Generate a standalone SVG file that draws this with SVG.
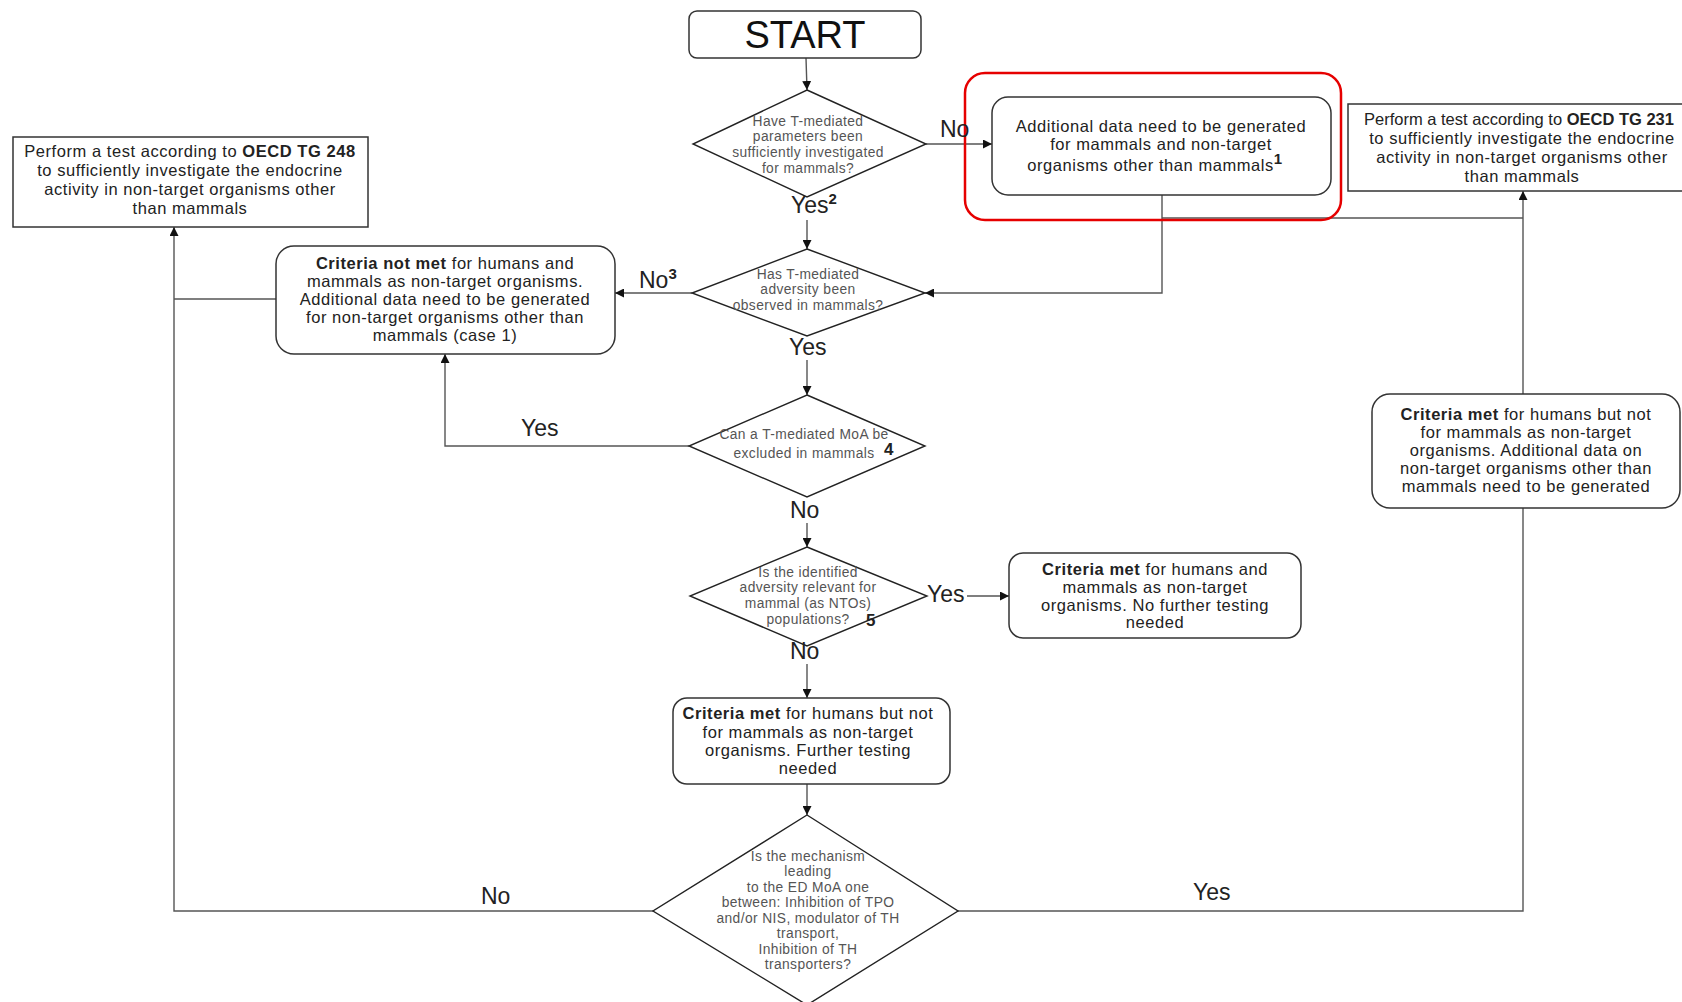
<svg xmlns="http://www.w3.org/2000/svg" width="1682" height="1002" viewBox="0 0 1682 1002">
<style>
.bg{fill:#ffffff}
.box{fill:#ffffff;stroke:#333;stroke-width:1.5}
.dia{fill:#ffffff;stroke:#222;stroke-width:1.4}
.red{fill:none;stroke:#e60000;stroke-width:2.5}
.con{fill:none;stroke:#555;stroke-width:1.4}
.arr{fill:none;stroke:#555;stroke-width:1.4;marker-end:url(#ah)}
.bt{font-family:"Liberation Sans",Arial,sans-serif;font-size:16.5px;letter-spacing:0.55px;fill:#222;text-anchor:middle}
.dt{font-family:"Liberation Sans",Arial,sans-serif;font-size:13.8px;letter-spacing:0.4px;fill:#555;text-anchor:middle}
.lb{font-family:"Liberation Sans",Arial,sans-serif;font-size:23px;fill:#222}
.b{font-weight:bold}
.sup{font-weight:bold;font-size:15px}
</style>
<defs>
<marker id="ah" viewBox="0 0 10 10" refX="10" refY="5" markerWidth="9" markerHeight="9" markerUnits="userSpaceOnUse" orient="auto">
<path d="M0,0 L10,5 L0,10 z" fill="#111"/>
</marker>
</defs>
<rect class="bg" x="0" y="0" width="1682" height="1002"/>

<g id="connectors">
<line class="arr" x1="806" y1="58" x2="807" y2="90"/>
<line class="arr" x1="926" y1="144" x2="992" y2="144"/>
<line class="arr" x1="807" y1="220" x2="807" y2="249"/>
<polyline class="arr" points="1162,195 1162,293 925,293"/>
<line class="con" x1="1162" y1="218" x2="1523" y2="218"/>
<line class="arr" x1="692" y1="293" x2="615" y2="293"/>
<line class="arr" x1="807" y1="360" x2="807" y2="395"/>
<polyline class="arr" points="689,446 445,446 445,354"/>
<line class="arr" x1="807" y1="523" x2="807" y2="547"/>
<line class="arr" x1="967" y1="596" x2="1009" y2="596"/>
<line class="arr" x1="807" y1="664" x2="807" y2="698"/>
<line class="arr" x1="807" y1="784" x2="807" y2="815"/>
<polyline class="arr" points="653,911 174,911 174,227"/>
<line class="con" x1="174" y1="299" x2="276" y2="299"/>
<polyline class="arr" points="958,911 1523,911 1523,191"/>
</g>

<g id="start">
<rect class="box" x="689" y="11" width="232" height="47" rx="8"/>
<text x="805" y="48" font-family="Liberation Sans, Arial, sans-serif" font-size="38" fill="#111" text-anchor="middle">START</text>
</g>

<g id="q1">
<polygon class="dia" points="807,90 926,144 807,197 693,144"/>
<text class="dt"><tspan x="808" y="126">Have T-mediated</tspan><tspan x="808" y="141">parameters been</tspan><tspan x="808" y="157">sufficiently investigated</tspan><tspan x="808" y="173">for mammals?</tspan></text>
</g>

<g id="highlight">
<rect class="red" x="965" y="73" width="376" height="147" rx="20"/>
</g>

<g id="additional">
<rect class="box" x="992" y="97" width="339" height="98" rx="16"/>
<text class="bt"><tspan x="1161" y="132">Additional data need to be generated</tspan><tspan x="1161" y="150">for mammals and non-target</tspan><tspan x="1155" y="171">organisms other than mammals</tspan><tspan class="sup" dy="-7">1</tspan></text>
</g>

<g id="tg231">
<rect class="box" x="1348" y="104" width="340" height="87"/>
<text class="bt"><tspan x="1519" y="125" letter-spacing="0">Perform a test according to <tspan class="b">OECD TG 231</tspan></tspan><tspan x="1522" y="144">to sufficiently investigate the endocrine</tspan><tspan x="1522" y="163">activity in non-target organisms other</tspan><tspan x="1522" y="182">than mammals</tspan></text>
</g>

<g id="tg248">
<rect class="box" x="13" y="137" width="355" height="90"/>
<text class="bt"><tspan x="190" y="157">Perform a test according to <tspan class="b">OECD TG 248</tspan></tspan><tspan x="190" y="176">to sufficiently investigate the endocrine</tspan><tspan x="190" y="195">activity in non-target organisms other</tspan><tspan x="190" y="214">than mammals</tspan></text>
</g>

<g id="notmet">
<rect class="box" x="276" y="246" width="339" height="108" rx="18"/>
<text class="bt"><tspan x="445" y="269"><tspan class="b">Criteria not met</tspan> for humans and</tspan><tspan x="445" y="287">mammals as non-target organisms.</tspan><tspan x="445" y="305">Additional data need to be generated</tspan><tspan x="445" y="323">for non-target organisms other than</tspan><tspan x="445" y="341">mammals (case 1)</tspan></text>
</g>

<g id="q2">
<polygon class="dia" points="807,249 925,293 807,336 692,293"/>
<text class="dt"><tspan x="808" y="279">Has T-mediated</tspan><tspan x="808" y="294">adversity been</tspan><tspan x="808" y="310">observed in mammals?</tspan></text>
</g>

<g id="q3">
<polygon class="dia" points="807,395 925,446 807,497 689,446"/>
<text class="dt"><tspan x="804" y="439">Can a T-mediated MoA be</tspan><tspan x="804" y="458">excluded in mammals</tspan></text>
<text x="884" y="455" font-family="Liberation Sans, Arial, sans-serif" font-size="17" font-weight="bold" fill="#222">4</text>
</g>

<g id="q4">
<polygon class="dia" points="807,547 927,596 807,646 690,596"/>
<text class="dt"><tspan x="808" y="577">Is the identified</tspan><tspan x="808" y="592">adversity relevant for</tspan><tspan x="808" y="608">mammal (as NTOs)</tspan><tspan x="808" y="624">populations?</tspan></text>
<text x="866" y="626" font-family="Liberation Sans, Arial, sans-serif" font-size="17" font-weight="bold" fill="#222">5</text>
</g>

<g id="met1">
<rect class="box" x="1009" y="553" width="292" height="85" rx="14"/>
<text class="bt"><tspan x="1155" y="575"><tspan class="b">Criteria met</tspan> for humans and</tspan><tspan x="1155" y="593">mammals as non-target</tspan><tspan x="1155" y="611">organisms. No further testing</tspan><tspan x="1155" y="628">needed</tspan></text>
</g>

<g id="met2">
<rect class="box" x="673" y="698" width="277" height="86" rx="14"/>
<text class="bt"><tspan x="808" y="719"><tspan class="b">Criteria met</tspan> for humans but not</tspan><tspan x="808" y="738">for mammals as non-target</tspan><tspan x="808" y="756">organisms. Further testing</tspan><tspan x="808" y="774">needed</tspan></text>
</g>

<g id="q5">
<polygon class="dia" points="807,815 958,911 807,1005 653,911"/>
<text class="dt"><tspan x="808" y="861">Is the mechanism</tspan><tspan x="808" y="876">leading</tspan><tspan x="808" y="892">to the ED MoA one</tspan><tspan x="808" y="907">between: Inhibition of TPO</tspan><tspan x="808" y="923">and/or NIS, modulator of TH</tspan><tspan x="808" y="938">transport,</tspan><tspan x="808" y="954">Inhibition of TH</tspan><tspan x="808" y="969">transporters?</tspan></text>
</g>

<g id="met3">
<rect class="box" x="1372" y="394" width="308" height="114" rx="18"/>
<text class="bt"><tspan x="1526" y="420"><tspan class="b">Criteria met</tspan> for humans but not</tspan><tspan x="1526" y="438">for mammals as non-target</tspan><tspan x="1526" y="456">organisms. Additional data on</tspan><tspan x="1526" y="474">non-target organisms other than</tspan><tspan x="1526" y="492">mammals need to be generated</tspan></text>
</g>

<g id="labels">
<text class="lb" x="940" y="137">No</text>
<text class="lb" x="791" y="213">Yes<tspan class="sup" dy="-9">2</tspan></text>
<text class="lb" x="639" y="288">No<tspan class="sup" dy="-9">3</tspan></text>
<text class="lb" x="789" y="355">Yes</text>
<text class="lb" x="521" y="436">Yes</text>
<text class="lb" x="790" y="518">No</text>
<text class="lb" x="927" y="602">Yes</text>
<text class="lb" x="790" y="659">No</text>
<text class="lb" x="481" y="904">No</text>
<text class="lb" x="1193" y="900">Yes</text>
</g>
</svg>
